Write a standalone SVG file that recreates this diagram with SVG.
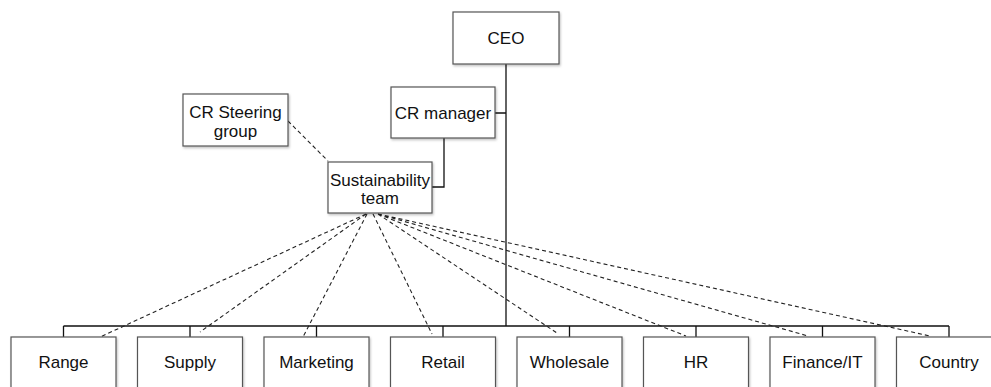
<svg xmlns="http://www.w3.org/2000/svg" width="991" height="387" viewBox="0 0 991 387">
<defs>
<filter id="sh" x="-10%" y="-10%" width="130%" height="130%">
<feDropShadow dx="1" dy="1.5" stdDeviation="1" flood-color="#000" flood-opacity="0.25"/>
</filter>
<style>
.box{fill:#fff;stroke:#555;stroke-width:1.2;filter:url(#sh)}
.t{font-family:"Liberation Sans",Arial,sans-serif;font-size:17px;fill:#111;text-anchor:middle}
.ln{fill:none;stroke:#111;stroke-width:1.3}
.ds{fill:none;stroke:#222;stroke-width:1.1;stroke-dasharray:4 3}
</style>
</defs>
<rect width="991" height="387" fill="#fff"/>
<g id="connectors">
<path class="ln" d="M506 64V326M495 113H506M444 138V187H432"/>
<path class="ln" d="M63.5 326H949M63.5 326V337M190 326V337M316.5 326V337M443 326V337M569.5 326V337M696 326V337M822.5 326V337M949 326V337"/>
<path class="ds" d="M288 121L328 161"/>
<path class="ds" d="M366 214L98 338M366 214L200 332M367 214L303 337M373 214L432 334M378 214L557 333M378 214L686 336M378 214L808 336M378 214L930 336"/>
</g>
<g id="ceo"><rect class="box" x="453" y="12" width="106" height="52"/><text class="t" x="506" y="44">CEO</text></g>
<g id="cr-manager"><rect class="box" x="391" y="87" width="104" height="51"/><text class="t" x="443" y="119">CR manager</text></g>
<g id="cr-steering"><rect class="box" x="183" y="94" width="105" height="52"/><text class="t" x="235.5" y="118">CR Steering</text><text class="t" x="235.5" y="137">group</text></g>
<g id="sustainability"><rect class="box" x="328" y="162" width="104" height="51"/><text class="t" x="380" y="186">Sustainability</text><text class="t" x="380" y="204">team</text></g>
<g id="range"><rect class="box" x="11" y="337" width="105" height="60"/><text class="t" x="63.5" y="368">Range</text></g>
<g id="supply"><rect class="box" x="137.5" y="337" width="105" height="60"/><text class="t" x="190" y="368">Supply</text></g>
<g id="marketing"><rect class="box" x="264" y="337" width="105" height="60"/><text class="t" x="316.5" y="368">Marketing</text></g>
<g id="retail"><rect class="box" x="390.5" y="337" width="105" height="60"/><text class="t" x="443" y="368">Retail</text></g>
<g id="wholesale"><rect class="box" x="517" y="337" width="105" height="60"/><text class="t" x="569.5" y="368">Wholesale</text></g>
<g id="hr"><rect class="box" x="643.5" y="337" width="105" height="60"/><text class="t" x="696" y="368">HR</text></g>
<g id="finance"><rect class="box" x="770" y="337" width="105" height="60"/><text class="t" x="822.5" y="368">Finance/IT</text></g>
<g id="country"><rect class="box" x="896.5" y="337" width="105" height="60"/><text class="t" x="949" y="368">Country</text></g>
</svg>
